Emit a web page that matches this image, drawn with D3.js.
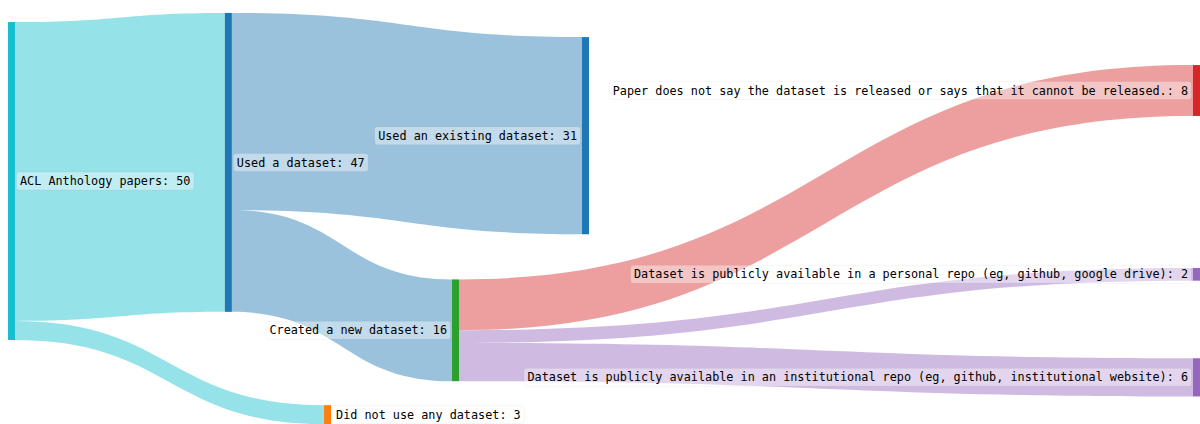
<!DOCTYPE html>
<html>
<head>
<meta charset="utf-8">
<script src="https://cdn.jsdelivr.net/npm/d3@7"></script>
<style>
  html, body { margin: 0; padding: 0; background: #fff; }
  .chart text { font-family: "DejaVu Sans Mono", monospace; font-size: 11.8px; fill: #000; }
</style>
</head>
<body>
<svg class="chart" width="1200" height="424"></svg>
<script>
// data
const nodeNames = [
  'ACL Anthology papers',
  'Used a dataset',
  'Did not use any dataset',
  'Used an existing dataset',
  'Created a new dataset',
  'Paper does not say the dataset is released or says that it cannot be released.',
  'Dataset is publicly available in a personal repo (eg, github, google drive)',
  'Dataset is publicly available in an institutional repo (eg, github, institutional website)'
]
const linkSource = [0, 0, 1, 1, 4, 4, 4]
const linkTarget = [1, 2, 3, 4, 5, 6, 7]
const linkValue = [47, 3, 31, 16, 8, 2, 6]

// arrangement (fractions of the plot area, like a fixed sankey layout)
const nodeX = [0, 0.183, 0.2667, 0.4844, 0.3747, 1, 1, 1]
const nodeY = [0.427, 0.383, 0.978, 0.32, 0.779, 0.2135, 0.647, 0.89]
const nodeColor = ['#17becf', '#1f77b4', '#ff7f0e', '#1f77b4', '#2ca02c', '#d62728', '#9467bd', '#9467bd']
// which end of the link gives it its colour
const linkColorBy = ['source', 'source', 'source', 'source', 'target', 'target', 'target']

const width = 1200
const height = 424
const nodeWidth = 7

const x = d3.scaleLinear().domain([0, 1]).range([8, width - nodeWidth])
const y = d3.scaleLinear().domain([0, 1]).range([0, height])
const v = d3.scaleLinear().domain([0, 50]).range([0, 318])

const nodes = nodeNames.map((name, i) => {
  const inV = d3.sum(linkValue.filter((d, j) => linkTarget[j] === i))
  const outV = d3.sum(linkValue.filter((d, j) => linkSource[j] === i))
  const value = Math.max(inV, outV)
  const h = v(value)
  const cy = y(nodeY[i])
  return { name, value, x0: x(nodeX[i]), x1: x(nodeX[i]) + nodeWidth, y0: cy - h / 2, y1: cy + h / 2, outOff: 0, inOff: 0 }
})

const links = linkValue.map((value, i) => {
  const s = nodes[linkSource[i]]
  const t = nodes[linkTarget[i]]
  const w = v(value)
  const sy = s.y0 + s.outOff
  const ty = t.y0 + t.inOff
  s.outOff += w
  t.inOff += w
  const colorNode = linkColorBy[i] === 'source' ? linkSource[i] : linkTarget[i]
  return { value, x0: s.x1, x1: t.x0, sy, ty, w, color: nodeColor[colorNode] }
})

const svg = d3.select('svg')

const linkPath = d => {
  const xm = (d.x0 + d.x1) / 2
  return `M${d.x0},${d.sy}C${xm},${d.sy} ${xm},${d.ty} ${d.x1},${d.ty}` +
    `L${d.x1},${d.ty + d.w}C${xm},${d.ty + d.w} ${xm},${d.sy + d.w} ${d.x0},${d.sy + d.w}Z`
}

svg.append('g').selectAll('path').data(links)
  .enter().append('path')
  .attr('d', linkPath)
  .attr('fill', d => d.color)
  .attr('fill-opacity', 0.45)

svg.append('g').selectAll('rect').data(nodes)
  .enter().append('rect')
  .attr('x', d => d.x0)
  .attr('y', d => d.y0)
  .attr('width', d => d.x1 - d.x0)
  .attr('height', d => d.y1 - d.y0)
  .attr('fill', (d, i) => nodeColor[i])

const labels = svg.append('g').selectAll('g').data(nodes)
  .enter().append('g')

labels.each(function (d) {
  const g = d3.select(this)
  const right = d.x0 < 400
  const cy = (d.y0 + d.y1) / 2
  const bg = g.append('rect')
  const t = g.append('text')
    .attr('x', right ? d.x1 + 5 : d.x0 - 5)
    .attr('y', cy)
    .attr('dy', '0.35em')
    .attr('text-anchor', right ? 'start' : 'end')
    .text(`${d.name}: ${d.value}`)
  const len = t.node().getComputedTextLength()
  const tx = right ? d.x1 + 5 : d.x0 - 5 - len
  bg.attr('x', tx - 3.5)
    .attr('y', cy - 9)
    .attr('width', len + 7)
    .attr('height', 18)
    .attr('rx', 3)
    .attr('fill', '#fff')
    .attr('fill-opacity', 0.4)
    .attr('stroke', '#000')
    .attr('stroke-opacity', 0.04)
})
</script>
</body>
</html>
